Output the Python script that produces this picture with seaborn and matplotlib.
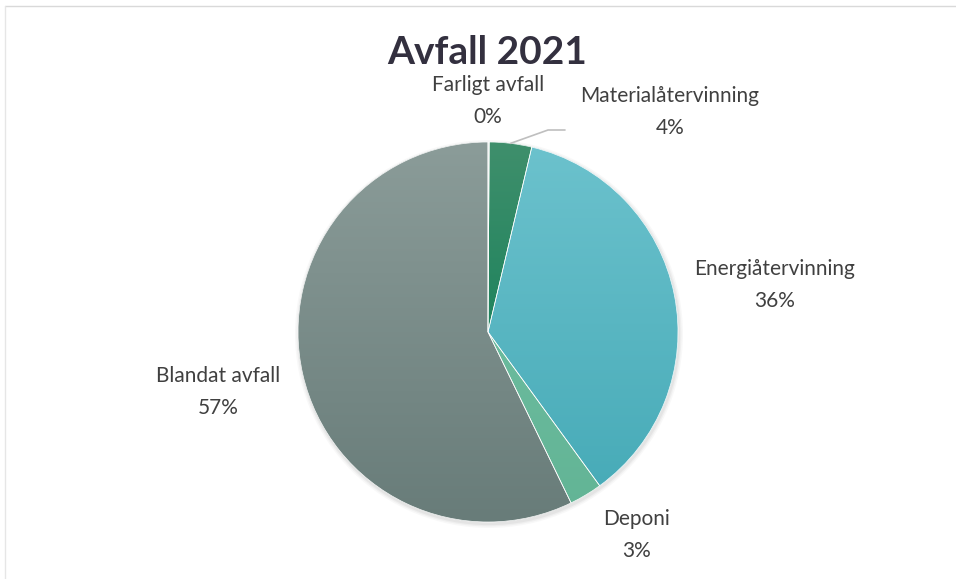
import numpy as np
import matplotlib
matplotlib.use("Agg")
import matplotlib.pyplot as plt
import seaborn as sns
from matplotlib.colors import LinearSegmentedColormap
from matplotlib.patches import Circle, Wedge

# data (share of total)
categories = ["Farligt avfall", "Materialåtervinning", "Energiåtervinning", "Deponi", "Blandat avfall"]
shares = [0.1, 3.6, 36.3, 2.8, 57.2]
pct_labels = ["0%", "4%", "36%", "3%", "57%"]
title = "Avfall 2021"

# colours: top / bottom of the vertical gradient per slice
top_colors = ["#d5dbda", "#3f8f6c", "#6cc2cd", "#74c2a6", "#8b9c99"]
bottom_colors = ["#c3cccb", "#00784f", "#44a9b6", "#62b495", "#687c79"]

# layout (pixels, image coordinates with y downwards)
W, H = 956, 579
cx, cy, R = 488, 332, 190
label_pos = [(488, 101), (670, 112), (775, 285), (637, 535), (218, 392)]

sns.set_theme(style="white")
plt.rcParams["font.family"] = ["Lato", "DejaVu Sans"]

fig = plt.figure(figsize=(W / 100, H / 100), dpi=100)
ax = fig.add_axes([0, 0, 1, 1])
ax.set_xlim(0, W)
ax.set_ylim(0, H)
ax.axis("off")

# soft shadow under the pie
for k, a in [(4, 0.05), (2.5, 0.07), (1.2, 0.09)]:
    ax.add_patch(Circle((cx + 1, H - cy - 2), R + k, color="#808080", alpha=a, lw=0, zorder=0))

wedges, _ = ax.pie(shares, startangle=90, counterclock=False, radius=R,
                   center=(cx, H - cy), colors=bottom_colors,
                   wedgeprops=dict(linewidth=0, zorder=1), frame=True)

grad = np.linspace(0, 1, 256).reshape(-1, 1)
for w, c0, c1 in zip(wedges, top_colors, bottom_colors):
    cmap = LinearSegmentedColormap.from_list("g", [c1, c0])
    im = ax.imshow(grad, extent=(cx - R, cx + R, H - cy - R, H - cy + R), origin="lower",
                   cmap=cmap, aspect="auto", zorder=2, interpolation="bilinear")
    im.set_clip_path(w)
    ax.add_patch(Wedge(w.center, w.r, w.theta1, w.theta2, facecolor="none",
                       edgecolor="white", linewidth=0.5, zorder=3))

ax.set_xlim(0, W)
ax.set_ylim(0, H)
ax.set_aspect("equal")
ax.axis("off")

for cat, pct, (lx, ly) in zip(categories, pct_labels, label_pos):
    ax.text(lx, H - ly, f"{cat}\n{pct}", ha="center", va="center", fontsize=15,
            color="#404040", linespacing=1.75, zorder=5)

# leader line for the small Materialåtervinning slice
w = wedges[1]
mid = np.deg2rad((w.theta1 + w.theta2) / 2)
sx, sy = cx + R * np.cos(mid), H - cy + R * np.sin(mid)
ax.plot([sx, 548, 565], [sy, H - 130, H - 130], color="#bfbfbf", lw=1.2, zorder=4)

ax.text(487, H - 52, title, ha="center", va="center", fontsize=28, fontweight="bold",
        color="#33303f", zorder=5)

# faint chart-area border
ax.plot([5, W], [H - 6, H - 6], color="#d9d9d9", lw=1, zorder=0)
ax.plot([5, 5], [H - 6, 0], color="#e6e6e6", lw=1, zorder=0)

fig.savefig("out.png", dpi=100, facecolor="white")
